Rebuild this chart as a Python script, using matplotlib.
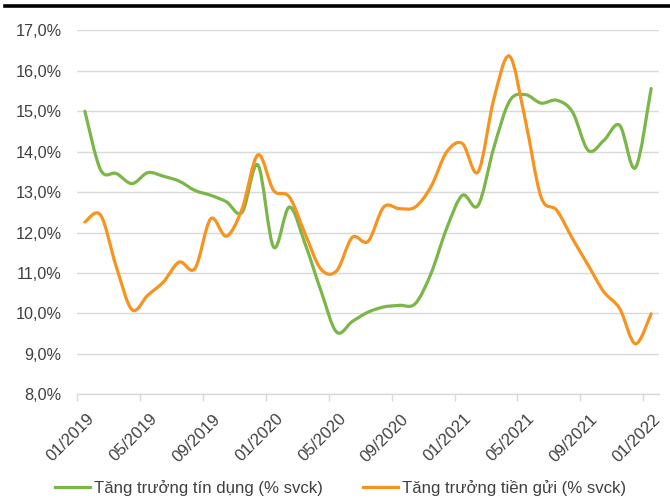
import matplotlib

matplotlib.use("Agg")
import matplotlib.pyplot as plt
from matplotlib.lines import Line2D
from matplotlib.patches import PathPatch
from matplotlib.path import Path
from matplotlib.ticker import FixedLocator, FuncFormatter

plt.rcParams["font.family"] = ["Liberation Sans", "DejaVu Sans"]

# Monthly series, 01/2019 .. 01/2022 (% year on year)
months = [f"{m:02d}/{y}" for y in (2019, 2020, 2021) for m in range(1, 13)] + ["01/2022"]
credit_growth = [
    15.0, 13.55, 13.46, 13.21, 13.48, 13.39, 13.27, 13.04, 12.92, 12.76,
    12.5, 13.67, 11.64, 12.63, 11.72, 10.57, 9.54, 9.8, 10.03, 10.16,
    10.2, 10.24, 10.98, 12.1, 12.92, 12.67, 14.1, 15.25, 15.41, 15.2,
    15.27, 14.98, 14.03, 14.28, 14.65, 13.6, 15.56,
]
deposit_growth = [
    12.26, 12.43, 11.15, 10.09, 10.45, 10.78, 11.27, 11.11, 12.34, 11.91,
    12.59, 13.92, 13.04, 12.88, 11.97, 11.1, 11.05, 11.88, 11.78, 12.63,
    12.59, 12.63, 13.13, 13.99, 14.2, 13.5, 15.3, 16.36, 14.78, 12.88,
    12.55, 11.85, 11.19, 10.53, 10.12, 9.25, 9.99,
]
series_names = ["Tăng trưởng tín dụng (% svck)", "Tăng trưởng tiền gửi (% svck)"]
series_colors = ["#7AB648", "#F7931E"]
text_color = "#404040"
grid_color = "#D9D9D9"


def smooth_path(values):
    # Catmull-Rom segments written as cubic Bezier curves
    pts = list(enumerate(values))
    verts = [pts[0]]
    codes = [Path.MOVETO]
    n = len(pts)
    for i in range(n - 1):
        p0 = pts[max(i - 1, 0)]
        p1 = pts[i]
        p2 = pts[i + 1]
        p3 = pts[min(i + 2, n - 1)]
        c1 = (p1[0] + (p2[0] - p0[0]) / 6, p1[1] + (p2[1] - p0[1]) / 6)
        c2 = (p2[0] - (p3[0] - p1[0]) / 6, p2[1] - (p3[1] - p1[1]) / 6)
        verts += [c1, c2, p2]
        codes += [Path.CURVE4] * 3
    return Path(verts, codes)


fig = plt.figure(figsize=(6.7, 5.01), dpi=100)
ax = fig.add_axes([77 / 670, 1 - 394.3 / 501, (659 - 77) / 670, (394.3 - 30.3) / 501])

for values, color, name in zip([credit_growth, deposit_growth], series_colors, series_names):
    patch = PathPatch(smooth_path(values), fill=False, edgecolor=color, linewidth=2.3,
                      capstyle="round", joinstyle="round", zorder=3)
    ax.add_patch(patch)

ax.set_xlim(-0.5, len(months) - 0.5)
ax.set_ylim(8, 17)
ax.set_yticks(range(8, 18))
ax.yaxis.set_major_formatter(FuncFormatter(lambda v, _: f"{v:.1f}%".replace(".", ",")))
ax.grid(axis="y", color=grid_color, linewidth=1.0)
ax.set_axisbelow(True)
for side in ("top", "right", "left"):
    ax.spines[side].set_visible(False)
ax.spines["bottom"].set_color(grid_color)
ax.spines["bottom"].set_linewidth(1.0)

label_idx = list(range(0, len(months), 4))
ax.xaxis.set_major_locator(FixedLocator([i - 0.5 for i in label_idx]))
ax.xaxis.set_major_formatter(FuncFormatter(lambda v, _: ""))
ax.tick_params(axis="x", length=5, width=1.0, color=grid_color)
ax.tick_params(axis="y", length=0, pad=11, labelsize=11.7, labelcolor=text_color)

for i in label_idx:
    ax.text(i + 0.1, 7.58, months[i], rotation=45, ha="right", va="top",
            rotation_mode="anchor", fontsize=12, color=text_color)

handles = [Line2D([], [], color=c, linewidth=2.3) for c in series_colors]
fig.legend(handles, series_names, loc="lower center", bbox_to_anchor=(0.508, -0.02), ncol=2,
           frameon=False, fontsize=12.1, handlelength=2.1, handletextpad=0.2,
           columnspacing=2.4, labelcolor=text_color)

fig.add_artist(Line2D([5 / 670, 1.0], [1 - 5.7 / 501] * 2, color="black", linewidth=2.6))

fig.savefig("out.png", dpi=100)
